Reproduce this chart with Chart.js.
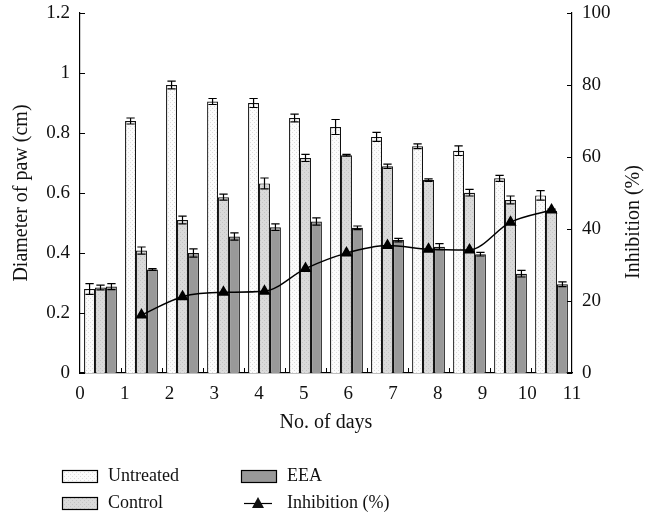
<!DOCTYPE html>
<html>
<head>
<meta charset="utf-8">
<script src="https://cdn.jsdelivr.net/npm/chart.js@4/dist/chart.umd.min.js"></script>
<style>
  html, body { margin: 0; padding: 0; background: #fff; }
  #chart { display: block; }
</style>
</head>
<body>
<canvas id="chart" width="657" height="518"></canvas>
<script>
// values
const days = ["0", "1", "2", "3", "4", "5", "6", "7", "8", "9", "10", "11"];
const untreated    = [0.280, 0.840, 0.960, 0.905, 0.900, 0.850, 0.820, 0.787, 0.756, 0.741, 0.649, 0.592];
const untreatedErr = [0.018, 0.010, 0.013, 0.010, 0.015, 0.013, 0.025, 0.015, 0.008, 0.016, 0.010, 0.016];
const control      = [0.285, 0.408, 0.510, 0.586, 0.632, 0.717, 0.726, 0.689, 0.643, 0.601, 0.577, 0.541];
const controlErr   = [0.008, 0.012, 0.013, 0.010, 0.018, 0.012, 0.003, 0.007, 0.004, 0.011, 0.013, 0.005];
const eea          = [0.288, 0.345, 0.400, 0.455, 0.486, 0.505, 0.484, 0.443, 0.421, 0.396, 0.331, 0.296];
const eeaErr       = [0.010, 0.003, 0.014, 0.012, 0.011, 0.012, 0.006, 0.006, 0.010, 0.006, 0.011, 0.008];
const inhibition   = [null, 16.1, 21.2, 22.4, 22.7, 29.0, 33.3, 35.4, 34.4, 34.2, 41.9, 45.3];

const FONT = "'Liberation Serif', 'Times New Roman', serif";

// little speckled fills like the printed bars
function speckle(base, dot) {
  const c = document.createElement("canvas");
  c.width = 4; c.height = 4;
  const g = c.getContext("2d");
  g.fillStyle = base;
  g.fillRect(0, 0, 4, 4);
  g.fillStyle = dot;
  g.fillRect(0, 0, 1, 1);
  g.fillRect(2, 2, 1, 1);
  return g.createPattern(c, "repeat");
}
const fillUntreated = speckle("#fbfbfb", "#dcdcdc");
const fillControl = speckle("#dadada", "#c4c4c4");
const fillEEA = "#999999";

const errors = [untreatedErr, controlErr, eeaErr];

// keep the plot box where the figure has it
function fixPad(s) {
  s.paddingTop = 13;
  s.paddingBottom = 0;
}

const extras = {
  id: "extras",
  afterDatasetsDraw(chart) {
    const ctx = chart.ctx;
    const y = chart.scales.y;
    ctx.save();
    ctx.strokeStyle = "#000";
    ctx.lineWidth = 1.2;
    // error bars
    for (let d = 0; d < 3; d++) {
      const meta = chart.getDatasetMeta(d);
      const vals = chart.data.datasets[d].data;
      meta.data.forEach((bar, i) => {
        const e = errors[d][i];
        const top = y.getPixelForValue(vals[i] + e);
        const bot = y.getPixelForValue(vals[i] - e);
        const hw = bar.width * 0.38;
        ctx.beginPath();
        ctx.moveTo(bar.x, top); ctx.lineTo(bar.x, bot);
        ctx.moveTo(bar.x - hw, top); ctx.lineTo(bar.x + hw, top);
        ctx.moveTo(bar.x - hw, bot); ctx.lineTo(bar.x + hw, bot);
        ctx.stroke();
      });
    }
    ctx.restore();
  },
  afterDraw(chart) {
    const ctx = chart.ctx;
    const area = chart.chartArea;
    const y = chart.scales.y, y2 = chart.scales.y2, x = chart.scales.x;
    ctx.save();
    ctx.strokeStyle = "#000";
    ctx.lineWidth = 1;
    ctx.beginPath();
    // inward tick marks
    y.ticks.forEach((t, i) => {
      const py = Math.round(y.getPixelForTick(i)) + 0.5;
      ctx.moveTo(area.left, py); ctx.lineTo(area.left + 5, py);
    });
    y2.ticks.forEach((t, i) => {
      const py = Math.round(y2.getPixelForTick(i)) + 0.5;
      ctx.moveTo(area.right, py); ctx.lineTo(area.right - 5, py);
    });
    for (let i = 1; i < days.length; i++) {
      const px = Math.round((x.getPixelForValue(i - 1) + x.getPixelForValue(i)) / 2) + 0.5;
      ctx.moveTo(px, area.bottom); ctx.lineTo(px, area.bottom - 5);
    }
    ctx.stroke();

    // axis titles
    ctx.fillStyle = "#111";
    ctx.font = "20px " + FONT;
    ctx.textAlign = "center";
    ctx.textBaseline = "middle";
    ctx.fillText("No. of days", (area.left + area.right) / 2, 423);
    ctx.save();
    ctx.translate(22, (area.top + area.bottom) / 2);
    ctx.rotate(-Math.PI / 2);
    ctx.fillText("Diameter of paw (cm)", 0, 0);
    ctx.restore();
    ctx.save();
    ctx.translate(634, 222);
    ctx.rotate(-Math.PI / 2);
    ctx.fillText("Inhibition (%)", 0, 0);
    ctx.restore();

    // legend
    ctx.font = "18px " + FONT;
    ctx.textAlign = "left";
    ctx.lineWidth = 1.2;
    const boxes = [
      [62, 470, fillUntreated, "Untreated"],
      [62, 497, fillControl, "Control"],
      [241, 470, fillEEA, "EEA"]
    ];
    boxes.forEach(([bx, by, fill, label]) => {
      ctx.fillStyle = fill;
      ctx.fillRect(bx, by, 35, 12);
      ctx.strokeRect(bx + 0.5, by + 0.5, 35, 12);
      ctx.fillStyle = "#111";
      ctx.fillText(label, bx + 46, by + 6);
    });
    ctx.beginPath();
    ctx.moveTo(244, 503.5); ctx.lineTo(272, 503.5);
    ctx.stroke();
    ctx.beginPath();
    ctx.moveTo(258, 497); ctx.lineTo(264, 508); ctx.lineTo(252, 508);
    ctx.closePath();
    ctx.fill();
    ctx.fillText("Inhibition (%)", 287, 503);
    ctx.restore();
  }
};

const barStyle = { borderColor: "#111", borderWidth: 1.2, borderSkipped: "bottom",
  xAxisID: "x", yAxisID: "y", order: 1, barPercentage: 1.0, categoryPercentage: 0.8 };

new Chart(document.getElementById("chart"), {
  type: "bar",
  data: {
    labels: days,
    datasets: [
      { ...barStyle, label: "Untreated", data: untreated, backgroundColor: fillUntreated },
      { ...barStyle, label: "Control", data: control, backgroundColor: fillControl },
      { ...barStyle, label: "EEA", data: eea, backgroundColor: fillEEA },
      {
        type: "line", label: "Inhibition (%)", data: inhibition,
        xAxisID: "x", yAxisID: "y2", order: 0,
        borderColor: "#000", borderWidth: 1.5, cubicInterpolationMode: "monotone",
        pointStyle: "triangle", pointRadius: 5.5, pointBackgroundColor: "#000", pointBorderColor: "#000"
      }
    ]
  },
  options: {
    responsive: false,
    animation: false,
    layout: { padding: { top: 13, left: 0, right: 0, bottom: 0 } },
    plugins: { legend: { display: false }, tooltip: { enabled: false } },
    scales: {
      x: { type: "category", display: false, offset: true },
      x2: {
        type: "linear", position: "bottom", min: 0, max: 11, offset: false,
        grid: { display: false, drawTicks: false },
        border: { display: true, color: "#000", width: 1.2 },
        ticks: { stepSize: 1, padding: 10, color: "#111", font: { family: FONT, size: 19 } },
        afterFit(s) { s.height = 145; }
      },
      y: {
        position: "left", min: 0, max: 1.2,
        grid: { display: false, drawTicks: false },
        border: { display: true, color: "#000", width: 1.2 },
        ticks: { stepSize: 0.2, padding: 10, color: "#111", font: { family: FONT, size: 19 },
          callback: v => String(+v.toFixed(1)) },
        afterFit(s) { s.width = 80; fixPad(s); }
      },
      y2: {
        position: "right", min: 0, max: 100,
        grid: { display: false, drawTicks: false },
        border: { display: true, color: "#000", width: 1.2 },
        ticks: { stepSize: 20, padding: 10, color: "#111", font: { family: FONT, size: 19 } },
        afterFit(s) { s.width = 85; fixPad(s); }
      }
    }
  },
  plugins: [extras]
});
</script>
</body>
</html>
